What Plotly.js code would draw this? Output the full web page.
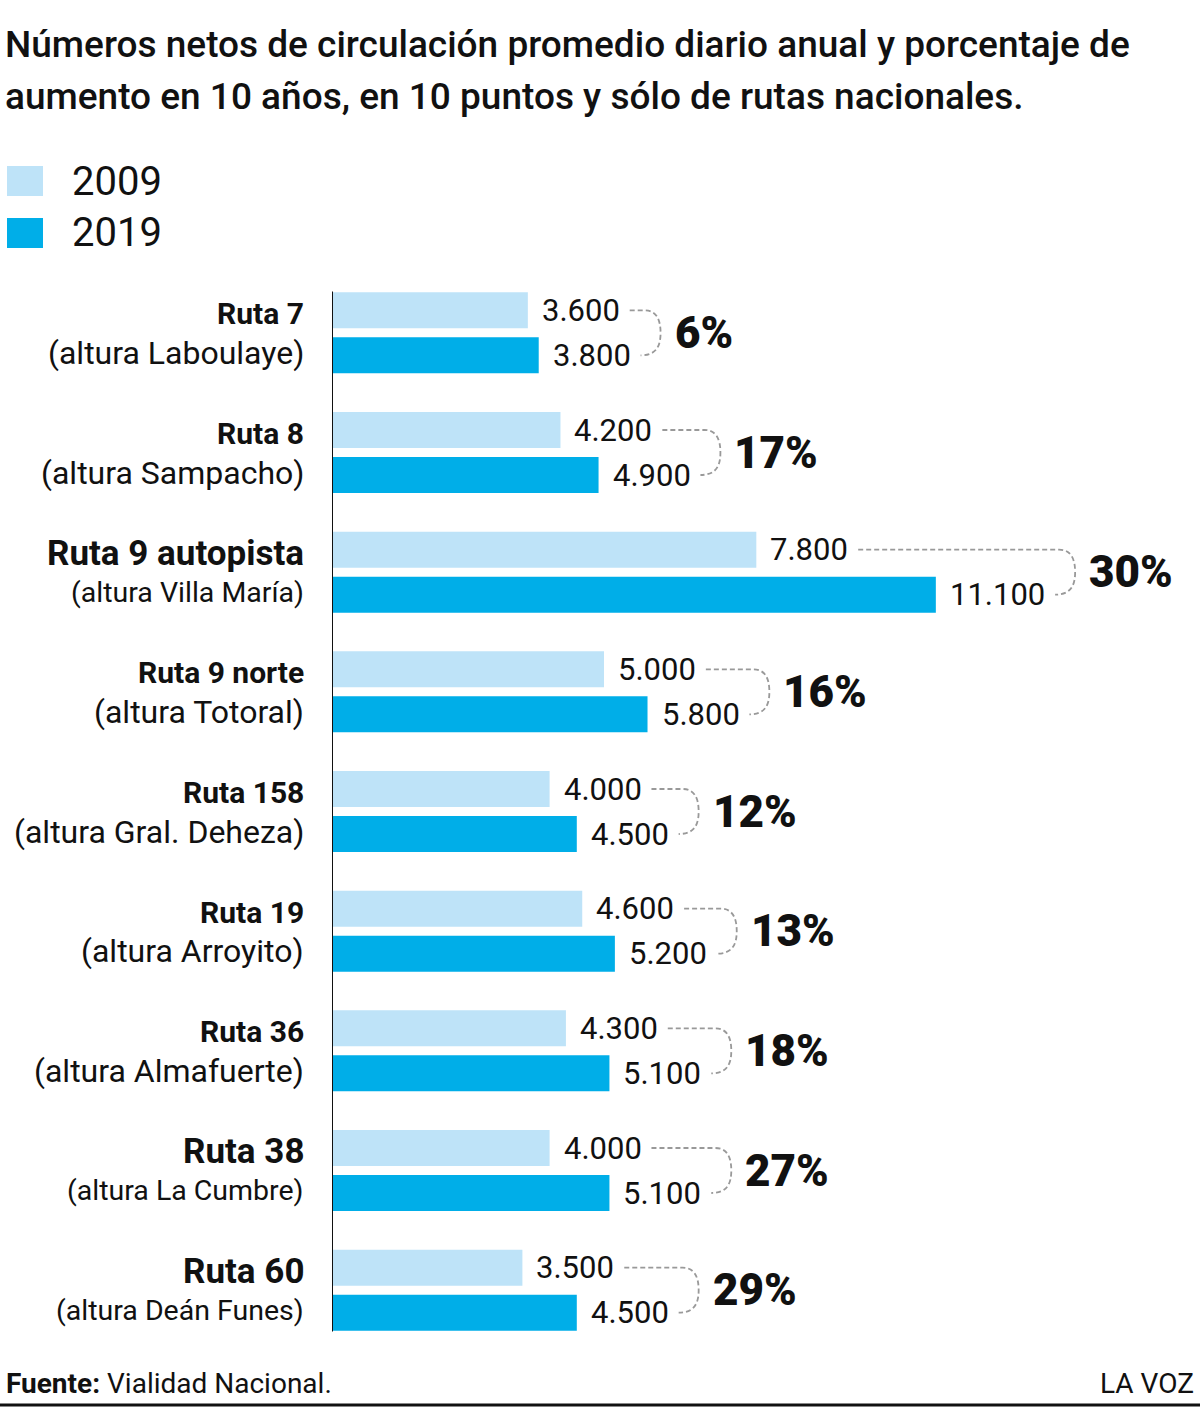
<!DOCTYPE html>
<html><head><meta charset="utf-8">
<script src="https://cdn.plot.ly/plotly-3.0.1.min.js"></script>
<style>html,body{margin:0;padding:0;background:#fff}#chart{width:1200px;height:1408px}</style>
</head><body><div id="chart"></div>
<script>
// ---------- DATA ----------
const routes = ['Ruta 7','Ruta 8','Ruta 9 autopista','Ruta 9 norte','Ruta 158','Ruta 19','Ruta 36','Ruta 38','Ruta 60'];
const places = ['(altura Laboulaye)','(altura Sampacho)','(altura Villa María)','(altura Totoral)','(altura Gral. Deheza)','(altura Arroyito)','(altura Almafuerte)','(altura La Cumbre)','(altura Deán Funes)'];
const seriesNames = ['2009','2019'];
const values2009 = [3600,4200,7800,5000,4000,4600,4300,4000,3500];
const values2019 = [3800,4900,11100,5800,4500,5200,5100,5100,4500];
const increasePct = [6,17,30,16,12,13,18,27,29];
const titleLines = ['Números netos de circulación promedio diario anual y porcentaje de','aumento en 10 años, en 10 puntos y sólo de rutas nacionales.'];
const sourceLabel = 'Fuente:';
const sourceText = 'Vialidad Nacional.';
const brand = 'LA VOZ';

// ---------- STYLE / LAYOUT ----------
const FONT = 'Roboto, "Open Sans", sans-serif';
const C09 = '#BEE3F8', C19 = '#00AEE8';
const W = 1200, H = 1408, L = 332, R = 0, T = 273, B = 58;
const PW = W - L - R, PH = H - T - B;
const PX_PER_UNIT = 0.0544;
const XMAX = PW / PX_PER_UNIT;
const NCAT = routes.length;
const KY = PH / NCAT;            // px per y unit
const BAR_OFF = 22.5 / KY;       // offset of each bar centre from group centre
const EMPH = new Set([2, 7, 8]);
const VAL_SIZE = 31, VAL_GAP = 12;
const PCT_SIZE = 44;

const yIdx = routes.map((_, i) => i);
const fmt = v => String(v).replace(/\B(?=(\d{3})+(?!\d))/g, '.');
const cv = document.createElement('canvas').getContext('2d');
function tw(t, size, weight) { cv.font = (weight || 'normal') + ' ' + size + 'px Roboto'; return cv.measureText(t).width; }
const dx = px => px / PX_PER_UNIT;
const dy = px => px / KY;
const pxX = px => (px - L) / PW;
const pxY = py => (H - B - py) / PH;

const traces = [
  {type: 'bar', orientation: 'h', name: seriesNames[0], y: yIdx, x: values2009, marker: {color: C09}, hoverinfo: 'skip'},
  {type: 'bar', orientation: 'h', name: seriesNames[1], y: yIdx, x: values2019, marker: {color: C19}, hoverinfo: 'skip'}
];

const annotations = [];
const shapes = [];

// category labels
routes.forEach((r, i) => {
  const big = EMPH.has(i);
  annotations.push({xref: 'paper', yref: 'y', x: 0, y: i, xanchor: 'right', yanchor: 'middle', xshift: -26, yshift: 19,
    text: '<b>' + r + '</b>', showarrow: false, font: {family: FONT, size: big ? 35 : 30, color: '#111'}});
  annotations.push({xref: 'paper', yref: 'y', x: 0, y: i, xanchor: 'right', yanchor: 'middle', xshift: -26, yshift: -20,
    text: places[i], showarrow: false, font: {family: FONT, size: big ? 28.5 : 32, color: '#111'}});
});

// value labels, connectors, percentages
routes.forEach((_, i) => {
  const v1 = values2009[i], v2 = values2019[i];
  annotations.push({xref: 'x', yref: 'y', x: v1, y: i - BAR_OFF, xanchor: 'left', yanchor: 'middle', xshift: VAL_GAP,
    text: fmt(v1), showarrow: false, font: {family: FONT, size: VAL_SIZE, color: '#111'}});
  annotations.push({xref: 'x', yref: 'y', x: v2, y: i + BAR_OFF, xanchor: 'left', yanchor: 'middle', xshift: VAL_GAP,
    text: fmt(v2), showarrow: false, font: {family: FONT, size: VAL_SIZE, color: '#111'}});
  const e1 = v1 * PX_PER_UNIT + VAL_GAP + tw(fmt(v1), VAL_SIZE) + 4;
  const e2 = v2 * PX_PER_UNIT + VAL_GAP + tw(fmt(v2), VAL_SIZE) + 4;
  const s1 = e1 + 8, s2 = e2 + 8;
  const bx = Math.max(e1, e2) + 28;
  const r = 16;
  const yt = i - BAR_OFF, yb = i + BAR_OFF;
  const path = 'M ' + dx(s1) + ',' + yt +
    ' L ' + dx(bx - r) + ',' + yt +
    ' C ' + dx(bx - r / 4) + ',' + yt + ' ' + dx(bx) + ',' + (yt + dy(r * 0.6)) + ' ' + dx(bx) + ',' + i +
    ' C ' + dx(bx) + ',' + (yb - dy(r * 0.6)) + ' ' + dx(bx - r / 4) + ',' + yb + ' ' + dx(Math.min(s2, bx - r)) + ',' + yb;
  shapes.push({type: 'path', xref: 'x', yref: 'y', path: path, line: {color: '#999999', width: 1.8, dash: '5px,3px'}});
  annotations.push({xref: 'x', yref: 'y', x: dx(bx), y: i, xanchor: 'left', yanchor: 'middle', xshift: 12,
    text: increasePct[i] + '%', showarrow: false, font: {family: FONT, size: PCT_SIZE, weight: 900, color: '#111'}});
});

// axis line
shapes.push({type: 'line', xref: 'x', yref: 'y', x0: 0, x1: 0, y0: -0.345, y1: NCAT - 1 + 0.345, line: {color: '#111', width: 2}});

// legend
[[C09, 166, seriesNames[0]], [C19, 218, seriesNames[1]]].forEach(([c, top, name]) => {
  shapes.push({type: 'rect', xref: 'paper', yref: 'paper', x0: pxX(7), x1: pxX(43), y0: pxY(top + 30), y1: pxY(top), fillcolor: c, line: {width: 0}});
  annotations.push({xref: 'paper', yref: 'paper', x: pxX(70), y: pxY(top + 15), xanchor: 'left', yanchor: 'middle',
    text: name, showarrow: false, font: {family: FONT, size: 40, color: '#111'}});
});

// footer
annotations.push({xref: 'paper', yref: 'paper', x: pxX(4), y: pxY(1383), xanchor: 'left', yanchor: 'middle',
  text: '<b>' + sourceLabel + '</b> ' + sourceText, showarrow: false, font: {family: FONT, size: 28, color: '#111'}});
annotations.push({xref: 'paper', yref: 'paper', x: pxX(1196), y: pxY(1383), xanchor: 'right', yanchor: 'middle',
  text: brand, showarrow: false, font: {family: FONT, size: 28, color: '#111'}});
shapes.push({type: 'line', xref: 'paper', yref: 'paper', x0: pxX(0), x1: pxX(1200), y0: pxY(1405), y1: pxY(1405), line: {color: '#111', width: 3}});

const layout = {
  width: W, height: H,
  margin: {l: L, r: R, t: T, b: B, pad: 0},
  paper_bgcolor: '#fff', plot_bgcolor: '#fff',
  showlegend: false,
  barmode: 'group', bargap: 0.248, bargroupgap: 0.2,
  title: {
    text: titleLines.map(t => '<span style="font-size:37px">' + t + '</span>').join('<br>'),
    x: 5 / W, xref: 'container', xanchor: 'left',
    y: 1 - 57 / H, yref: 'container', yanchor: 'top',
    font: {family: FONT, size: 40, weight: 500, color: '#111'}
  },
  xaxis: {range: [0, XMAX], visible: false, fixedrange: true},
  yaxis: {range: [NCAT - 0.5, -0.5], visible: false, fixedrange: true},
  annotations: annotations,
  shapes: shapes
};

Plotly.newPlot('chart', traces, layout, {staticPlot: true, displayModeBar: false});
</script>
</body></html>
